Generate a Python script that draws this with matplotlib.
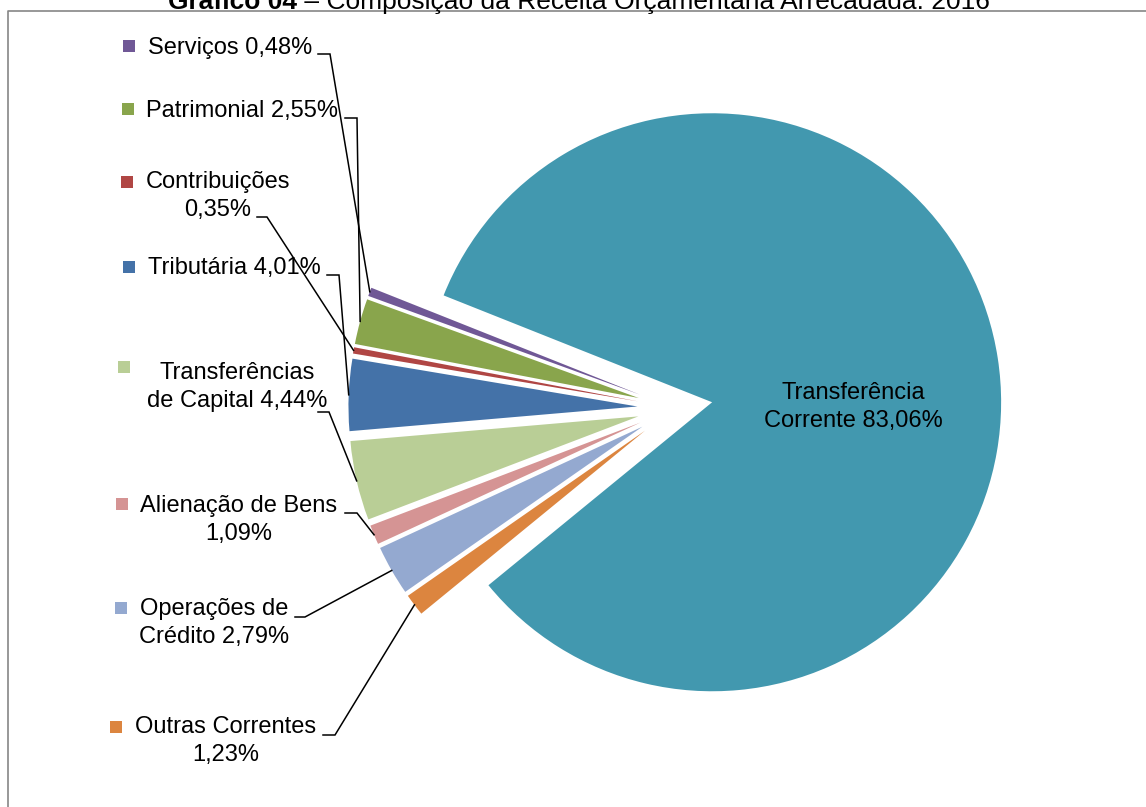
import matplotlib
matplotlib.use("Agg")
import matplotlib.pyplot as plt
import numpy as np

plt.rcParams["font.family"] = ["Liberation Sans", "DejaVu Sans"]

W, H = 1146, 807  # figure size in pixels

# dados (ordem horária a partir da Transferência Corrente)
categorias = ["Transferência Corrente", "Outras Correntes", "Operações de Crédito",
              "Alienação de Bens", "Transferências de Capital", "Tributária",
              "Contribuições", "Patrimonial", "Serviços"]
percentuais = [83.06, 1.23, 2.79, 1.09, 4.44, 4.01, 0.35, 2.55, 0.48]
rotulos = ["Transferência\nCorrente 83,06%", "Outras Correntes\n1,23%",
           "Operações de\nCrédito 2,79%", "Alienação de Bens\n1,09%",
           "Transferências\nde Capital 4,44%", "Tributária 4,01%",
           "Contribuições\n0,35%", "Patrimonial 2,55%", "Serviços 0,48%"]
cores = ["#4298AF", "#DC853F", "#94A9D0", "#D59494", "#B9CE96",
         "#4472A8", "#B04644", "#89A54C", "#705896"]

# posições dos rótulos em pixels (y a partir do topo)
layout = {
    "Serviços": dict(text=(148, 48), ha="left", key=(129, 46), leader=(318, 330, 54)),
    "Patrimonial": dict(text=(146, 111), ha="left", key=(128, 109), leader=(345, 357, 118)),
    "Contribuições": dict(text=(218, 196), ha="center", key=(127, 182), leader=(257, 267, 217)),
    "Tributária": dict(text=(148, 268), ha="left", key=(129, 267), leader=(327, 339, 275)),
    "Transferências de Capital": dict(text=(237, 387), ha="center", key=(124, 367), leader=(318, 329, 412)),
    "Alienação de Bens": dict(text=(239, 520), ha="center", key=(122, 504), leader=(345, 357, 513)),
    "Operações de Crédito": dict(text=(214, 623), ha="center", key=(121, 608), leader=(295, 305, 617)),
    "Outras Correntes": dict(text=(226, 741), ha="center", key=(116, 727), leader=(323, 335, 735)),
}

FS = 17
LS = 1.34
RADIUS = 289

fig = plt.figure(figsize=(W / 100, H / 100), dpi=100)
ax = fig.add_axes([0, 0, 1, 1])

# explode em unidades de dados (o raio não é 1)
wedges, _ = ax.pie(percentuais, colors=cores,
                   explode=[0.13 * RADIUS] * len(percentuais),
                   startangle=158.3, counterclock=False,
                   center=(675, H - 408), radius=RADIUS,
                   wedgeprops=dict(linewidth=0))

ax.set_xlim(0, W)
ax.set_ylim(0, H)
ax.set_aspect("equal")
ax.axis("off")

# rótulo da fatia principal
ax.text(853, H - 407, rotulos[0], ha="center", va="center", fontsize=FS,
        linespacing=LS, multialignment="center")

# rótulos das fatias pequenas com chave de cor e linha guia
for w, cat, rot, cor in zip(wedges[1:], categorias[1:], rotulos[1:], cores[1:]):
    lay = layout[cat]
    tx, ty = lay["text"]
    ax.text(tx, H - ty, rot, ha=lay["ha"], va="center", fontsize=FS,
            linespacing=LS, multialignment="center")
    kx, ky = lay["key"]
    ax.plot(kx, H - ky, marker="s", markersize=8, color=cor, markeredgewidth=0)
    th = np.deg2rad((w.theta1 + w.theta2) / 2)
    cx, cy = w.center
    px, py = cx + w.r * np.cos(th), cy + w.r * np.sin(th)
    x0, x1, ly = lay["leader"]
    ax.plot([x0, x1, px], [H - ly, H - ly, py], color="black", lw=1.1,
            solid_joinstyle="miter")

# moldura do gráfico
ax.plot([8, 8, W + 5], [-5, H - 11, H - 11], color="#868686", lw=1.2, clip_on=False)

# título (cortado no topo, como na imagem original)
t1 = fig.text(168 / W, 1 - 9 / H, "Gráfico 04", fontsize=19, fontweight="bold",
              ha="left", va="baseline")
ax.annotate(" – Composição da Receita Orçamentária Arrecadada: 2016",
            xy=(1, 0), xycoords=t1, ha="left", va="bottom", fontsize=19,
            annotation_clip=False)

fig.savefig("out.png", dpi=100)
plt.close(fig)
